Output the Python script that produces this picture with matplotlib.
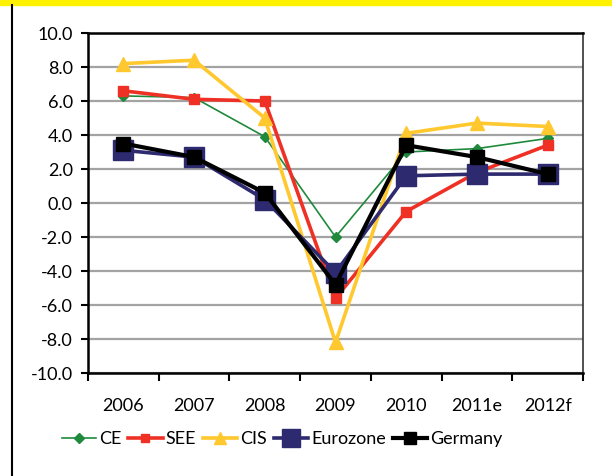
import matplotlib
matplotlib.use("Agg")
import matplotlib.pyplot as plt
from matplotlib.lines import Line2D
from matplotlib.patches import Rectangle

years = ["2006", "2007", "2008", "2009", "2010", "2011e", "2012f"]
ce = [6.3, 6.2, 3.9, -2.0, 3.0, 3.2, 3.8]
see = [6.6, 6.1, 6.0, -5.6, -0.5, 1.8, 3.4]
cis = [8.2, 8.4, 5.0, -8.2, 4.1, 4.7, 4.5]
eurozone = [3.1, 2.7, 0.2, -4.1, 1.6, 1.7, 1.7]
germany = [3.5, 2.7, 0.6, -4.8, 3.4, 2.7, 1.7]
yticks = [-10, -8, -6, -4, -2, 0, 2, 4, 6, 8, 10]

plt.rcParams['font.family'] = ['Lato', 'DejaVu Sans']

fig = plt.figure(figsize=(6.12, 4.76), dpi=100)
ax = fig.add_axes([88/612, 1-373/476, (583-88)/612, (373-33)/476])

x = [i + 0.5 for i in range(len(years))]
ax.plot(x, ce, color='#1F8A3C', lw=1.2, marker='D', ms=5.5, label='CE', zorder=3)
ax.plot(x, see, color='#EE3124', lw=2.6, marker='s', ms=7, label='SEE', zorder=3)
ax.plot(x, cis, color='#FFC82E', lw=2.6, marker='^', ms=9.5, label='CIS', zorder=3)
ax.plot(x, eurozone, color='#2E2A70', lw=2.6, marker='s', ms=14, label='Eurozone', zorder=4)
ax.plot(x, germany, color='#000000', lw=3, marker='s', ms=10, label='Germany', zorder=5)

ax.set_xlim(0, 7)
ax.set_ylim(-10, 10)
ax.set_yticks(yticks)
ax.set_yticklabels([f"{v:.1f}" for v in yticks])
ax.set_xticks(range(8))
ax.set_xticklabels([])
ax.set_xticks(x, minor=True)
ax.set_xticklabels(years, minor=True)
ax.tick_params(axis='x', which='major', length=6, width=1.5, direction='out')
ax.tick_params(axis='x', which='minor', length=0, pad=18, labelsize=13)
ax.tick_params(axis='y', length=5, width=1.5, direction='out', labelsize=13, pad=6)
ax.yaxis.grid(True, color='#A3A3A3', lw=1.6)
ax.set_axisbelow(True)
for s in ax.spines.values():
    s.set_color('black')
    s.set_linewidth(1.8)
ax.spines['right'].set_color('#333333')
ax.spines['right'].set_linewidth(1.2)

leg = fig.legend(loc='center', bbox_to_anchor=(282/612, 1-439/476), ncol=5,
                 frameon=False, fontsize=13, handlelength=1.9, handletextpad=0.15,
                 columnspacing=0.4, borderaxespad=0, markerscale=0.9)

fig.patches.append(Rectangle((0, 1-5/476), 1, 5/476, transform=fig.transFigure,
                             color='#FFF200', zorder=0))
fig.lines.append(Line2D([12/612, 12/612], [0, 1-5/476], transform=fig.transFigure,
                        color='black', lw=1.5))

fig.savefig('out.png', dpi=100)
